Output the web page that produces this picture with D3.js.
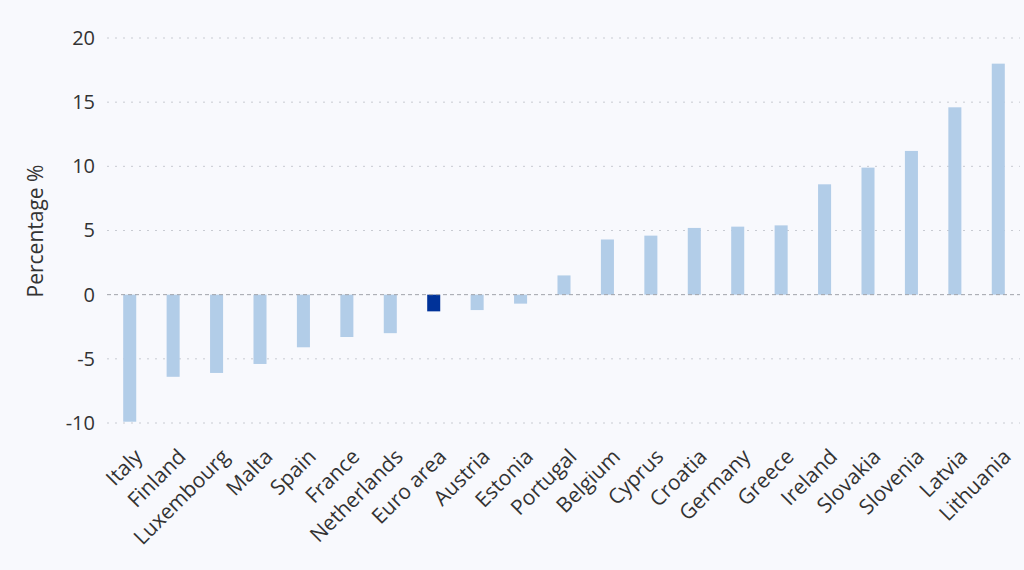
<!DOCTYPE html>
<html><head><meta charset="utf-8">
<script src="https://cdn.jsdelivr.net/npm/d3@7"></script>
<style>
html,body{margin:0;padding:0;background:#f8f9fd;}
svg{display:block;font-family:"Open Sans",sans-serif;}
</style></head><body>
<svg id="c" width="1024" height="570"></svg>
<script>
const categories = ["Italy","Finland","Luxembourg","Malta","Spain","France","Netherlands","Euro area","Austria","Estonia","Portugal","Belgium","Cyprus","Croatia","Germany","Greece","Ireland","Slovakia","Slovenia","Latvia","Lithuania"];
const values = [-9.9,-6.4,-6.1,-5.4,-4.1,-3.3,-3.0,-1.3,-1.2,-0.7,1.5,4.3,4.6,5.2,5.3,5.4,8.6,9.9,11.2,14.6,18.0];
const yTicks = [-10,-5,0,5,10,15,20];
const highlight = "Euro area";

const svg = d3.select("#c");
svg.append("rect").attr("width",1024).attr("height",570).attr("fill","#f8f9fd");

const x = d3.scaleBand().domain(categories).range([108,1020]).paddingInner(0.7).paddingOuter(0.35);
const y = d3.scaleLinear().domain([-10,20]).range([423,38]);

// gridlines
svg.append("g").selectAll("line").data(yTicks.filter(t=>t!==0)).join("line")
  .attr("x1",107).attr("x2",1020).attr("y1",d=>y(d)).attr("y2",d=>y(d))
  .attr("stroke","#c8cbd2").attr("stroke-width",1).attr("stroke-dasharray","2,6");

// bars
svg.append("g").selectAll("rect").data(categories).join("rect")
  .attr("x",d=>x(d)).attr("width",x.bandwidth())
  .attr("y",(d,i)=>y(Math.max(0,values[i])))
  .attr("height",(d,i)=>Math.abs(y(values[i])-y(0)))
  .attr("fill",d=>d===highlight?"#003299":"#b2cde8");

// zero line
svg.append("line").attr("x1",107).attr("x2",1020).attr("y1",y(0)).attr("y2",y(0))
  .attr("stroke","#a0a3aa").attr("stroke-width",1).attr("stroke-dasharray","4,3");

// y axis labels
const ya = svg.append("g").attr("transform","translate(95,0)")
  .call(d3.axisLeft(y).tickValues(yTicks).tickSize(0).tickPadding(0).tickFormat(d=>String(d)));
ya.select(".domain").remove();
ya.selectAll("text").attr("font-size",20).attr("fill","#333").attr("font-family","'Open Sans',sans-serif");

// x axis labels
const xa = svg.append("g").attr("transform","translate(0,438)")
  .call(d3.axisBottom(x).tickSize(0).tickPadding(0));
xa.select(".domain").remove();
xa.selectAll("text").attr("font-size",21).attr("fill","#333").attr("font-family","'Open Sans',sans-serif")
  .attr("text-anchor","end").attr("dy","0").attr("y",0)
  .attr("transform","translate(14,20) rotate(-45)");

// y title
svg.append("text").attr("transform","translate(43,231) rotate(-90)")
  .attr("text-anchor","middle").attr("font-size",21).attr("fill","#333").text("Percentage %");
</script>
</body></html>
